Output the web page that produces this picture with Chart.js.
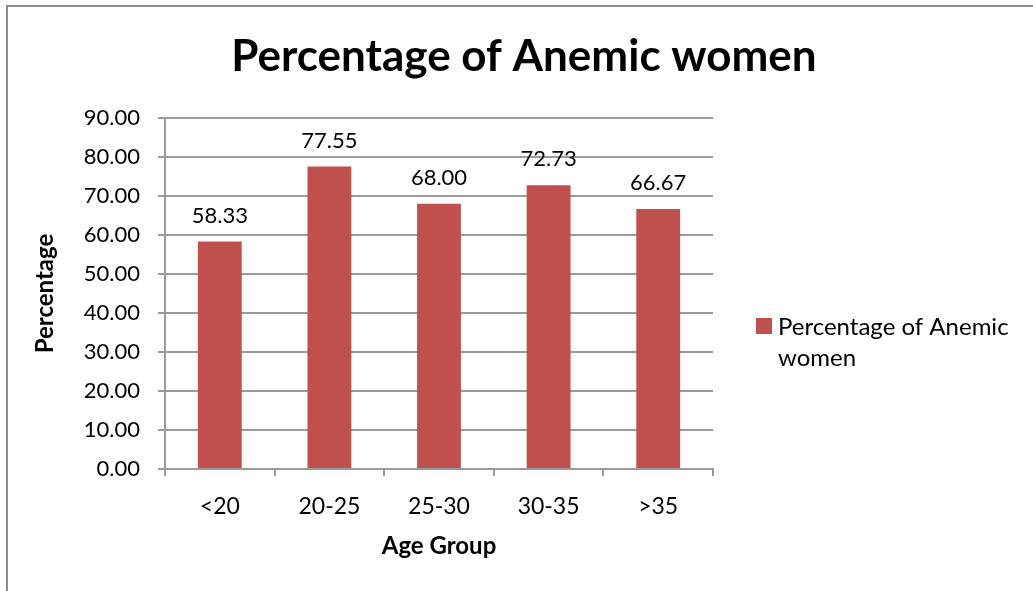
<!DOCTYPE html>
<html>
<head>
<meta charset="utf-8">
<script src="https://cdn.jsdelivr.net/npm/chart.js@4"></script>
<style>
  html, body { margin: 0; padding: 0; background: #fff; }
  #wrap { position: relative; width: 1033px; height: 591px; }
  #frame { position: absolute; left: 6px; top: 5px; right: -4px; bottom: -4px; border-left: 2px solid #8c8c8c; border-top: 2px solid #8c8c8c; pointer-events: none; }
  canvas { position: absolute; left: 0; top: 0; }
</style>
</head>
<body>
<div id="wrap">
  <canvas id="c" width="1033" height="591"></canvas>
  <div id="frame"></div>
</div>
<script>
const chartTitle = 'Percentage of Anemic women';
const categories = ['<20', '20-25', '25-30', '30-35', '>35'];
const seriesLabelLines = ['Percentage of Anemic', 'women'];
const seriesValues = [58.33, 77.55, 68.00, 72.73, 66.67];
const yTitle = 'Percentage';
const xTitle = 'Age Group';
const yMin = 0, yMax = 90, yStep = 10;

const FONT = 'Lato, "Open Sans", sans-serif';
const barColor = '#C0504D';
const gridColor = '#9a9a9a';

const padLeft = 15;
const legendWidth = 1033 - 713;

// Legend drawn in the reserved right-hand area (text wraps onto two lines)
const wrappedLegend = {
  id: 'wrappedLegend',
  afterDraw(chart) {
    const ctx = chart.ctx;
    const area = chart.chartArea;
    const ds = chart.data.datasets[0];
    const x0 = area.right + 43;
    const yTop = 318;
    ctx.save();
    ctx.fillStyle = ds.backgroundColor;
    ctx.fillRect(x0, yTop, 16, 16);
    ctx.fillStyle = '#000';
    ctx.font = '24px ' + FONT;
    ctx.textAlign = 'left';
    ctx.textBaseline = 'middle';
    seriesLabelLines.forEach((line, i) => {
      ctx.fillText(line, x0 + 22, yTop + 9 + i * 31);
    });
    ctx.restore();
  }
};

const dataLabels = {
  id: 'dataLabels',
  afterDatasetsDraw(chart) {
    const ctx = chart.ctx;
    ctx.save();
    ctx.font = '22px ' + FONT;
    ctx.fillStyle = '#000';
    ctx.textAlign = 'center';
    ctx.textBaseline = 'middle';
    chart.getDatasetMeta(0).data.forEach((bar, i) => {
      ctx.fillText(seriesValues[i].toFixed(2), bar.x, bar.y - 26);
    });
    ctx.restore();
  }
};

new Chart(document.getElementById('c'), {
  type: 'bar',
  data: {
    labels: categories,
    datasets: [{
      label: seriesLabelLines.join(' '),
      data: seriesValues,
      backgroundColor: barColor,
      borderWidth: 0,
      barPercentage: 0.4,
      categoryPercentage: 1.0,
      yAxisID: 'y'
    }]
  },
  options: {
    responsive: false,
    animation: false,
    devicePixelRatio: 1,
    layout: { padding: { left: padLeft, right: 0, top: 0, bottom: 0 } },
    plugins: {
      title: {
        display: true,
        text: chartTitle,
        color: '#000',
        font: { family: FONT, size: 44, weight: 'bold', lineHeight: 1.2 },
        padding: { top: 30.6, bottom: 34.6 }
      },
      legend: { display: false },
      tooltip: { enabled: false }
    },
    scales: {
      x: {
        afterFit(s) { s.height = 591 - 469; },
        grid: { display: true, drawOnChartArea: false, drawTicks: true, tickLength: 7, color: gridColor, lineWidth: 2, offset: true },
        border: { display: true, color: gridColor, width: 2 },
        ticks: { color: '#000', font: { family: FONT, size: 23 }, padding: 17 },
        title: { display: true, text: xTitle, color: '#000', font: { family: FONT, size: 24, weight: 'bold', lineHeight: 1.2 }, padding: { top: 0, bottom: 30.6 } }
      },
      y: {
        min: yMin, max: yMax,
        afterFit(s) { s.width = 165 - padLeft; },
        grid: { display: true, drawTicks: true, tickLength: 7, color: gridColor, lineWidth: 2 },
        border: { display: true, color: gridColor, width: 2 },
        ticks: { stepSize: yStep, color: '#000', font: { family: FONT, size: 22 }, padding: 18, callback: v => Number(v).toFixed(2) },
        title: { display: true, text: yTitle, color: '#000', font: { family: FONT, size: 24, weight: 'bold', lineHeight: 1.2 }, padding: { top: 45 - padLeft - 14.4, bottom: 0 } }
      },
      legendSpace: {
        type: 'linear',
        position: 'right',
        display: true,
        afterFit(s) { s.width = legendWidth; },
        grid: { display: false },
        border: { display: false },
        ticks: { display: false },
        title: { display: false }
      }
    }
  },
  plugins: [dataLabels, wrappedLegend]
});
</script>
</body>
</html>
